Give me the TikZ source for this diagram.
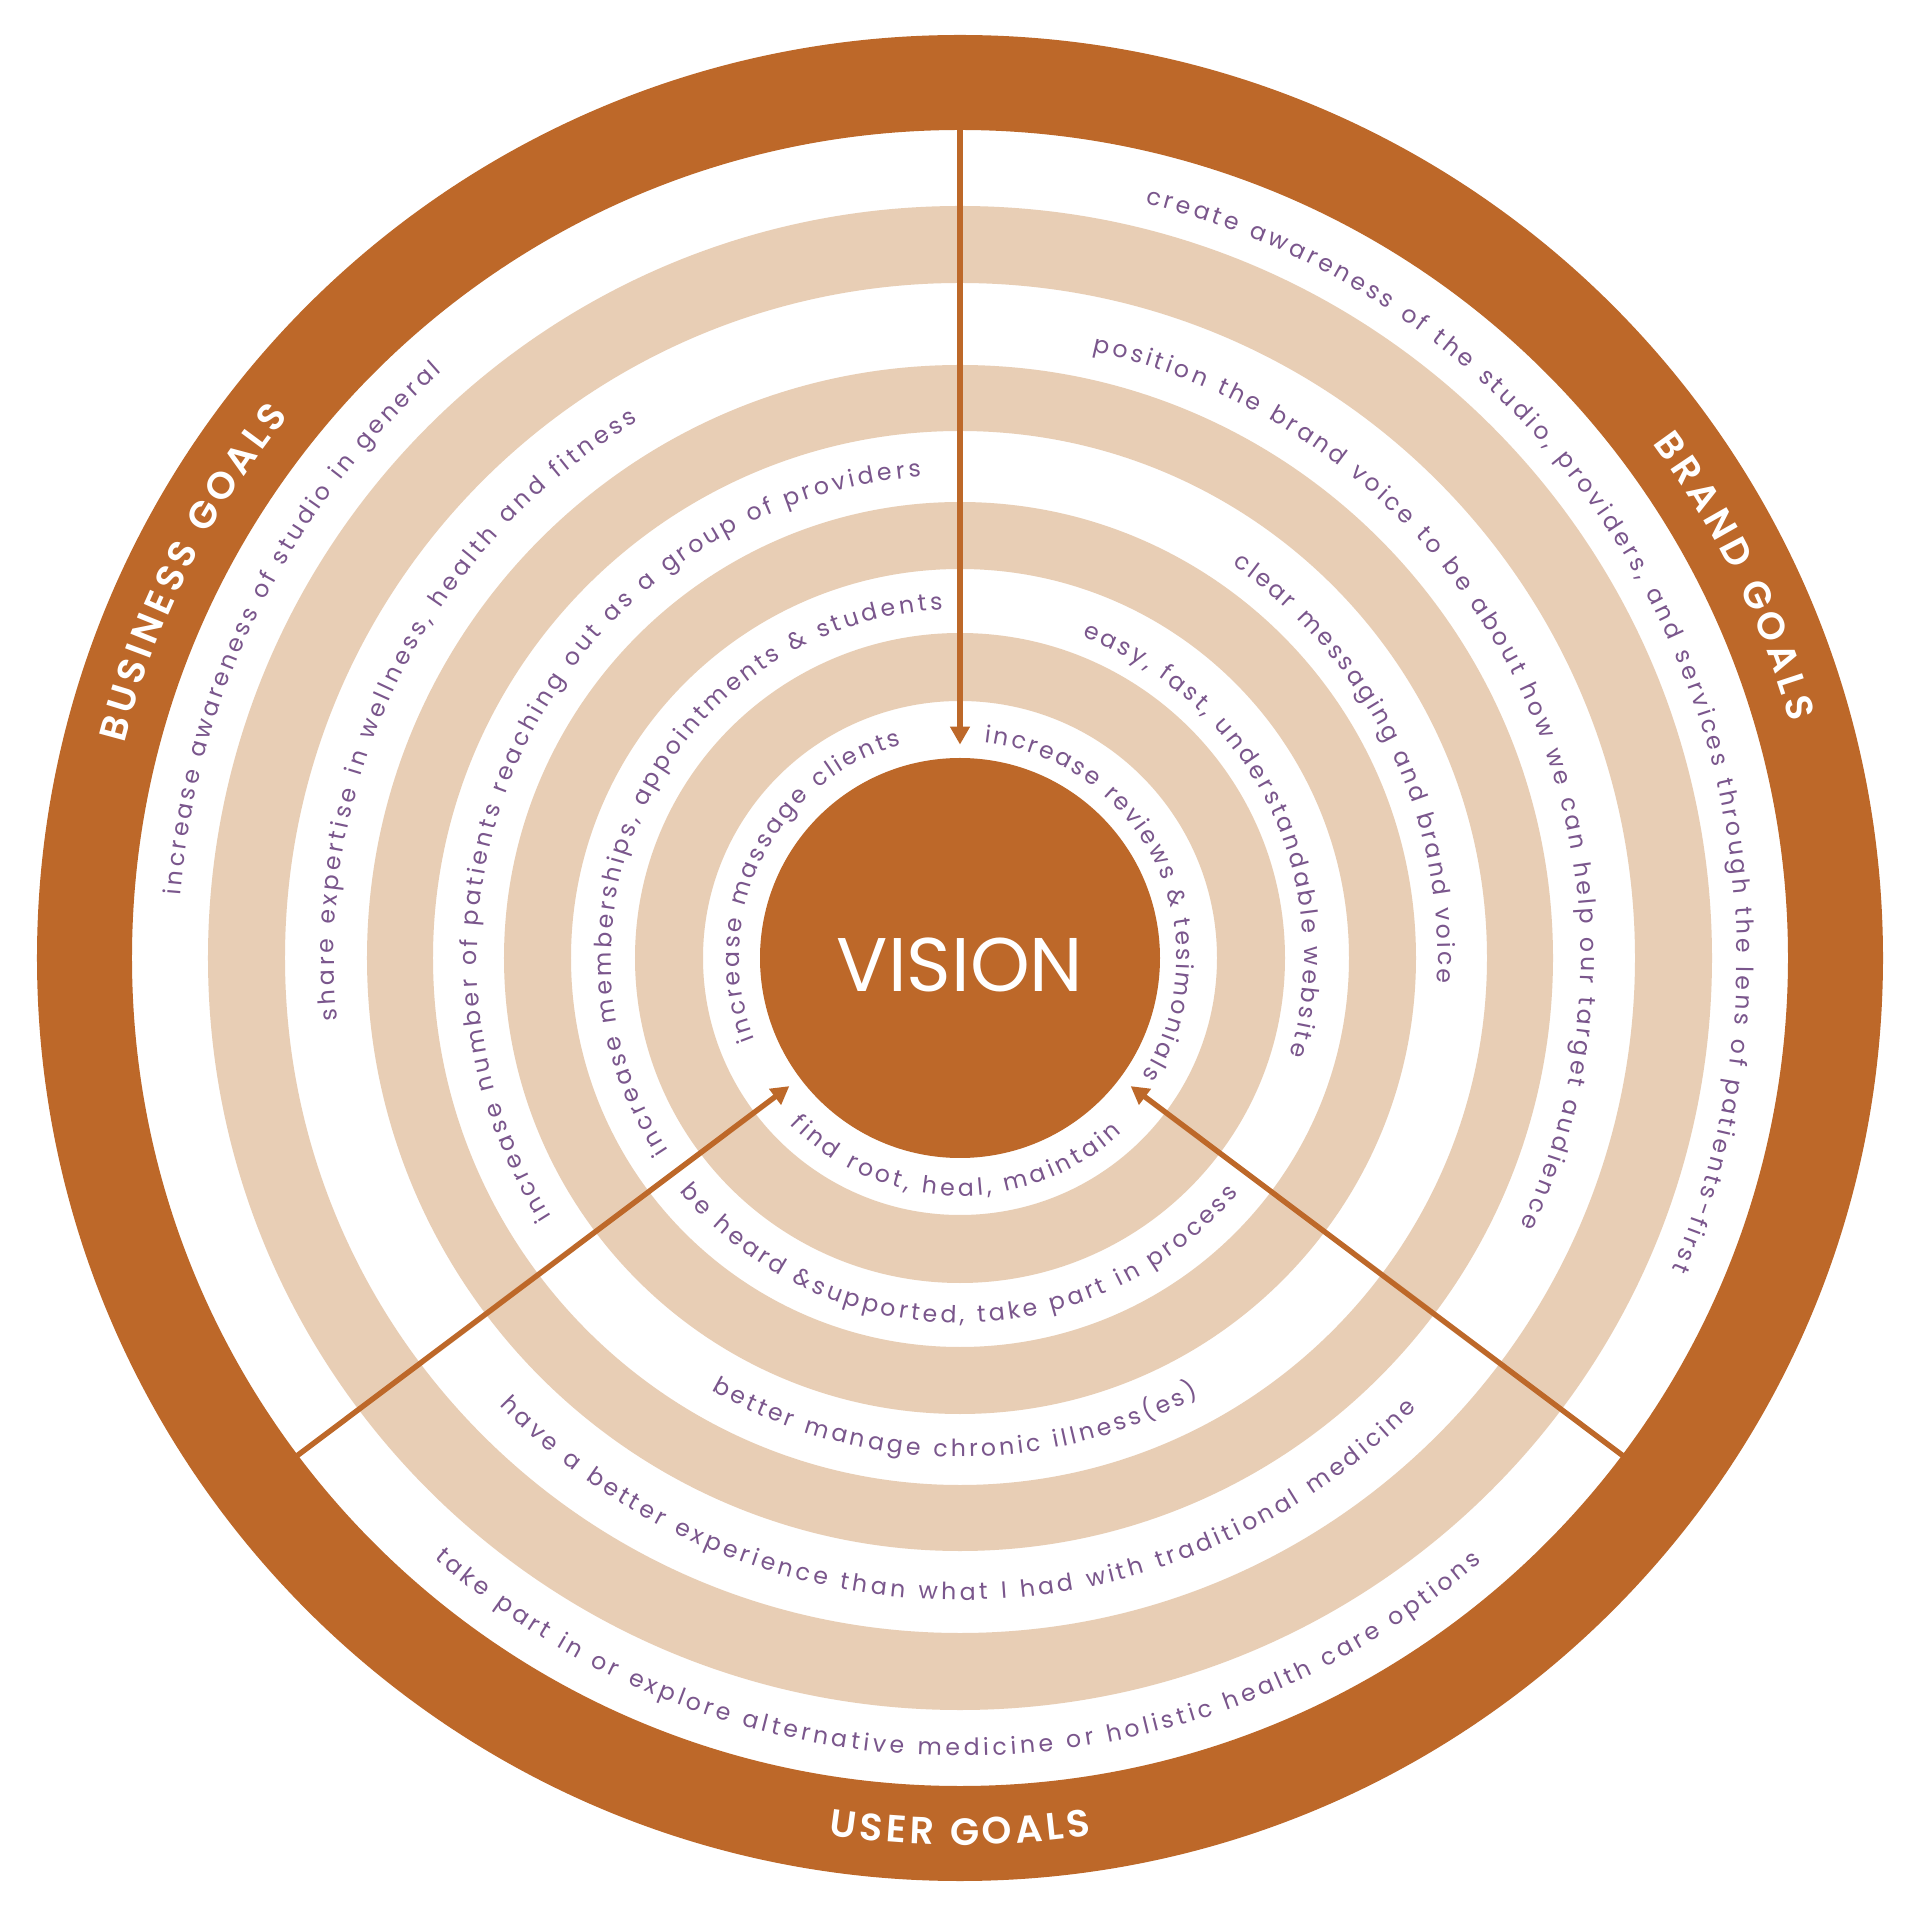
\documentclass[tikz,border=0pt]{standalone}
\usepackage{fontspec}
\setmainfont{Poppins}
\newfontfamily\textfam{Poppins}
\newfontfamily\semifam{Poppins}[UprightFont=* SemiBold]
\usetikzlibrary{decorations.text,arrows.meta}
\definecolor{rust}{RGB}{189,104,41}
\definecolor{sand}{RGB}{232,206,181}
\definecolor{txt}{RGB}{122,86,140}
\newcommand\txtfnt{\textfam\fontsize{11.8pt}{14pt}\selectfont}
\newcommand\goalfnt{\semifam\fontsize{19pt}{21pt}\selectfont}
\newcommand\cwtext[5]{%
  \path[decorate,decoration={text along path,text align={fit to path},text={|#4|#5}}]
    (#1:#3) arc[start angle=#1, end angle=#2, radius=#3];}
\newcommand\ccwtext[5]{%
  \path[decorate,decoration={text along path,text align={fit to path},text={|#4|#5}}]
    (#1:#3) arc[start angle=#1, end angle=#2, radius=#3];}
\tikzset{
  ring/.style={fill=#1, even odd rule},
  arr/.style={draw=rust, line width=2.7pt, -{Triangle[width=9.5pt,length=9pt]}, shorten >=6.5pt},
}
\begin{document}
\begin{tikzpicture}[x=0.5pt,y=0.5pt]
\fill[white] (-960,-962) rectangle (960,958);
\useasboundingbox (-960,-962) rectangle (960,958);
% rings
\fill[ring=rust] (0,0) circle[radius=923] (0,0) circle[radius=828];
\fill[ring=sand] (0,0) circle[radius=752] (0,0) circle[radius=675];
\fill[ring=sand] (0,0) circle[radius=593] (0,0) circle[radius=527];
\fill[ring=sand] (0,0) circle[radius=456] (0,0) circle[radius=389];
\fill[ring=sand] (0,0) circle[radius=325] (0,0) circle[radius=257];
% center
\node[circle, fill=rust, minimum size=200pt, inner sep=0pt] (vision) at (0,0) {};
\node[text=white, font=\fontsize{38pt}{40pt}\selectfont, inner sep=0pt] (visiontxt) at (0,-7) {VISION};
% arrows
\coordinate (ta) at (90:832);
\coordinate (tb) at (216.9:832);
\coordinate (tc) at (323.1:832);
\draw[arr] (ta) -- (vision);
\draw[arr] (tb) -- (vision);
\draw[arr] (tc) -- (vision);
% goal labels
\cwtext{165.6}{141.1}{863}{\goalfnt\color{white}}{BUSINESS GOALS}
\cwtext{36.6}{15.8}{863}{\goalfnt\color{white}}{BRAND GOALS}
\ccwtext{261.5}{278.5}{887}{\goalfnt\color{white}}{USER GOALS}
% left texts
\cwtext{175.4}{131.5}{782}{\txtfnt\color{txt}}{increase awareness of studio in general}
\cwtext{185.7}{121}{626}{\txtfnt\color{txt}}{share expertise in wellness, health and fitness}
\cwtext{212.3}{94.6}{483}{\txtfnt\color{txt}}{increase number of patients reaching out as a group of providers}
\cwtext{213.4}{92.8}{349}{\txtfnt\color{txt}}{increase memberships, appointments {\&} students}
\cwtext{201.6}{105.3}{221}{\txtfnt\color{txt}}{increase massage clients}
% right texts
\cwtext{76.2}{-23.6}{777}{\txtfnt\color{txt}}{create awareness of the studio, providers, and services through the lens of patients-first}
\cwtext{77.7}{-25.5}{621}{\txtfnt\color{txt}}{position the brand voice to be about how we can help our target audience}
\cwtext{55.3}{-3}{478}{\txtfnt\color{txt}}{clear messaging and brand voice}
\cwtext{69.2}{-16.4}{344}{\txtfnt\color{txt}}{easy, fast, understandable website}
\cwtext{83.6}{-32.9}{217}{\txtfnt\color{txt}}{increase reviews {\&} tesimonials}
% bottom texts
\ccwtext{228.8}{310.7}{798}{\txtfnt\color{txt}}{take part in or explore alternative medicine or holistic health care options}
\ccwtext{224.2}{315.4}{642}{\txtfnt\color{txt}}{have a better experience than what I had with traditional medicine}
\ccwtext{240.1}{298.6}{499}{\txtfnt\color{txt}}{better manage chronic illness(es)}
\ccwtext{219.8}{319.8}{365}{\txtfnt\color{txt}}{be heard {\&}supported, take part in process}
\ccwtext{224.4}{312.9}{238}{\txtfnt\color{txt}}{find root, heal, maintain}
\end{tikzpicture}
\end{document}
